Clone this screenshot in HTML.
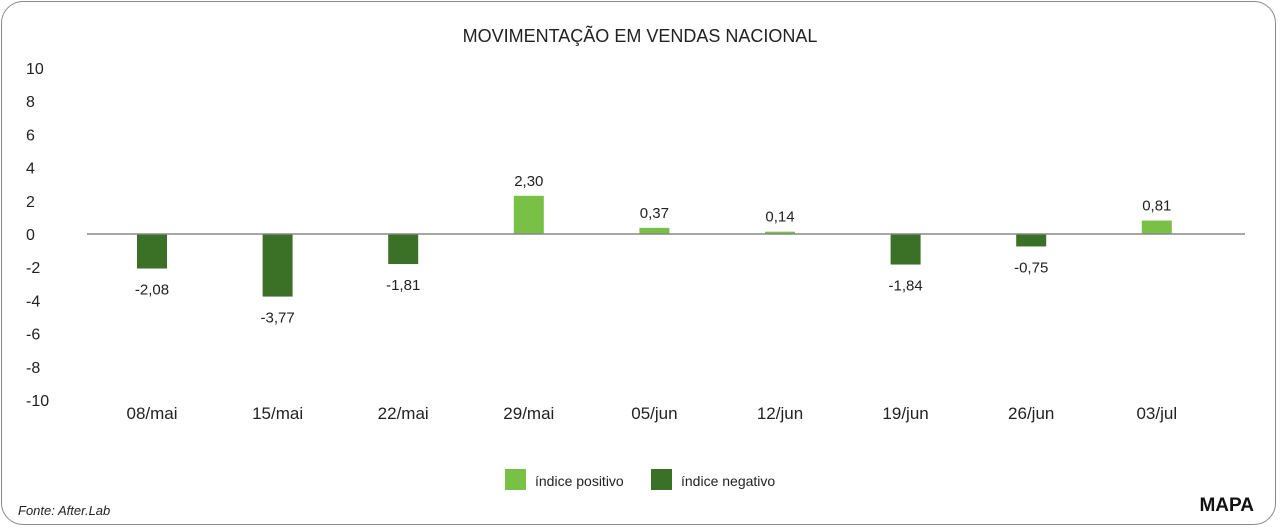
<!DOCTYPE html>
<html><head><meta charset="utf-8"><style>
body{margin:0;width:1280px;height:529px;background:#fff;font-family:"Liberation Sans",sans-serif;overflow:hidden}
#frame{position:absolute;left:1px;top:1px;width:1275px;height:524px;border:1.5px solid #8a8a8a;border-radius:22px;box-sizing:border-box}
svg{position:absolute;left:0;top:0}
</style></head><body>
<div id="frame"></div>
<svg id="c" width="1280" height="529"></svg>
<script>
const categories=["08/mai","15/mai","22/mai","29/mai","05/jun","12/jun","19/jun","26/jun","03/jul"];
const values=[-2.08,-3.77,-1.81,2.30,0.37,0.14,-1.84,-0.75,0.81];
const labels=["-2,08","-3,77","-1,81","2,30","0,37","0,14","-1,84","-0,75","0,81"];
const yTicks=[10,8,6,4,2,0,-2,-4,-6,-8,-10];
const NS="http://www.w3.org/2000/svg";
const svg=document.getElementById('c');
const y=v=>234-v*16.6;
const x=i=>152+i*125.6;
function mk(t,a,txt){const e=document.createElementNS(NS,t);for(const k in a)e.setAttribute(k,a[k]);if(txt!=null)e.textContent=txt;svg.appendChild(e);return e;}
let t=mk('text',{x:640,y:42,'text-anchor':'middle','font-size':18,fill:'#222'},'MOVIMENTAÇÃO EM VENDAS NACIONAL');


yTicks.forEach(v=>{const e=mk('text',{x:26,y:y(v)+6,'font-size':16,fill:'#222'},String(v));

});
values.forEach((v,i)=>{
const top=Math.min(y(v),y(0)),h=Math.abs(y(v)-y(0));
const r=mk('rect',{x:x(i)-15,y:top,width:30,height:h,fill:v>=0?'#78c146':'#3b7127'});


const ly=v>=0?y(v)-10:y(v)+26;
const l=mk('text',{x:x(i),y:ly,'text-anchor':'middle','font-size':15,fill:'#222'},labels[i]);


const c=mk('text',{x:x(i),y:419,'text-anchor':'middle','font-size':17,fill:'#222'},categories[i]);


});
const ax=mk('line',{x1:87,x2:1245,y1:y(0),y2:y(0),stroke:'#888','stroke-width':1.5});


const lg=[["índice positivo",'#78c146',505],["índice negativo",'#3b7127',651]];
lg.forEach(([n,col,lx])=>{const s=mk('rect',{x:lx,y:469,width:21,height:21,fill:col});


const tt=mk('text',{x:lx+30,y:486,'font-size':14,fill:'#222'},n);

});
const f=mk('text',{x:18,y:515,'font-size':13,'font-style':'italic',fill:'#222'},'Fonte: After.Lab');


const m=mk('text',{x:1254,y:511,'text-anchor':'end','font-size':19,'font-weight':'bold',fill:'#111'},'MAPA');


</script>
</body></html>
